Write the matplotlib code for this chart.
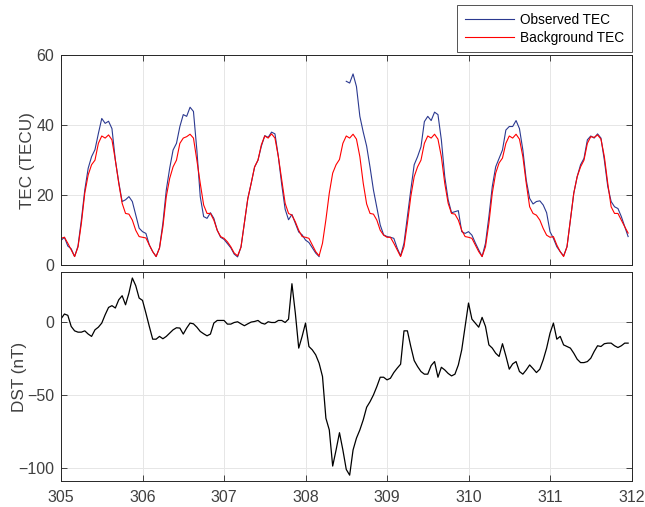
import numpy as np
import matplotlib.pyplot as plt

plt.rcParams['font.family'] = ['Liberation Sans', 'DejaVu Sans']

# hourly samples, day of year 305 - 311
hours = np.arange(168)
doy = 305 + hours / 24.0

tec_background = [
    7.7, 8.0, 6.3, 4.4, 2.5, 5.2, 12.0, 20.6, 25.8, 28.7, 30.0, 34.8, 36.9, 36.3, 37.2, 35.8, 30.0, 23.4, 17.7, 14.8, 14.6, 12.9, 10.0, 8.2,
    8.0, 7.8, 5.8, 3.9, 2.5, 4.9, 11.0, 19.6, 24.8, 28.1, 30.0, 34.8, 36.3, 36.7, 37.4, 36.3, 30.0, 23.4, 17.2, 14.8, 14.8, 12.9, 10.0, 8.2,
    7.7, 6.7, 5.3, 3.5, 2.7, 5.2, 12.0, 19.0, 23.4, 28.1, 30.0, 34.4, 36.9, 36.3, 37.5, 36.3, 31.0, 24.3, 17.7, 14.8, 14.3, 12.4, 10.0, 8.2,
    8.0, 7.7, 5.8, 3.9, 2.7, 6.3, 13.0, 20.6, 26.3, 28.7, 30.2, 34.8, 36.9, 36.3, 37.4, 36.0, 31.0, 23.4, 17.5, 14.8, 14.6, 12.9, 10.0, 8.6,
    8.0, 8.0, 6.3, 4.4, 2.5, 5.3, 12.0, 19.6, 25.3, 28.1, 30.0, 34.8, 36.9, 36.3, 37.4, 36.0, 31.0, 23.4, 17.7, 14.8, 14.6, 12.9, 10.0, 8.2,
    8.0, 7.7, 5.8, 3.9, 2.5, 5.3, 12.0, 20.6, 26.3, 29.2, 30.6, 34.8, 36.9, 36.3, 37.4, 36.0, 31.0, 23.4, 16.7, 14.8, 14.3, 12.9, 10.5, 8.6,
    8.0, 8.2, 5.8, 3.9, 2.5, 5.3, 13.0, 20.6, 25.3, 28.1, 30.0, 34.8, 36.7, 36.5, 37.2, 36.0, 31.0, 23.4, 16.7, 14.8, 14.8, 12.9, 11.0, 9.2,
]

nan = np.nan
tec_observed = [
    7.1, 8.0, 5.5, 4.7, 2.5, 5.5, 13.0, 21.5, 27.7, 31.0, 33.0, 37.6, 41.9, 40.5, 41.1, 39.0, 30.0, 23.7, 18.2, 18.7, 19.6, 18.2, 14.4, 10.6,
    9.6, 9.1, 5.8, 3.9, 2.5, 5.0, 12.0, 21.5, 27.7, 32.9, 34.8, 39.6, 43.0, 42.5, 45.1, 43.9, 32.9, 19.6, 13.9, 13.4, 15.0, 13.4, 10.0, 8.0,
    7.4, 6.2, 5.0, 3.2, 2.4, 5.2, 12.0, 19.0, 23.4, 28.0, 30.0, 34.0, 37.0, 36.5, 38.0, 37.5, 31.0, 23.0, 16.0, 13.0, 14.5, 12.0, 9.5, 8.7,
    7.2, 6.5, 5.0, 3.5, 2.5, nan, nan, nan, nan, nan, nan, nan, 52.5, 52.0, 54.6, 51.0, 42.5, 38.0, 34.0, 28.0, 21.5, 16.5, 11.5, 8.7,
    8.2, 8.0, 7.7, 4.9, 2.7, 6.3, 13.9, 21.5, 28.7, 31.0, 33.8, 41.0, 42.5, 41.3, 43.7, 43.0, 35.8, 25.3, 18.7, 15.0, 15.3, 15.6, 9.6, 9.1,
    9.6, 8.6, 6.4, 4.4, 2.5, 6.3, 13.9, 22.5, 28.1, 30.5, 32.9, 38.6, 39.6, 39.6, 41.3, 39.0, 32.9, 24.3, 19.1, 17.5, 18.2, 18.4, 17.2, 15.0,
    9.6, 7.7, 5.3, 3.9, 2.7, 5.3, 13.0, 20.6, 25.3, 28.7, 30.5, 35.8, 36.9, 36.3, 37.5, 36.3, 30.0, 22.5, 18.2, 16.7, 16.2, 13.9, 11.0, 8.2,
]

dst = [
    2.0, 5.3, 4.4, -3.2, -6.2, -7.1, -7.1, -6.2, -8.4, -10.0, -5.5, -3.7, -0.9, 4.8, 9.8, 11.0, 9.4, 15.0, 17.8, 11.6, 19.6, 29.9, 24.7, 16.2,
    14.6, 5.9, -3.2, -11.9, -11.9, -10.0, -11.6, -10.0, -7.8, -5.5, -4.1, -4.3, -8.4, -4.3, -0.9, -1.4, -3.7, -6.6, -8.2, -9.6, -8.4, -0.9, 0.9, 0.9,
    0.9, -1.6, -1.6, -0.5, 0.0, -1.4, -2.7, -1.4, -0.2, 0.2, 0.9, -0.9, -1.6, 0.0, -0.5, -0.5, 0.9, 0.9, -0.5, 1.8, 26.0, 5.9, -18.0, -10.0,
    -0.9, -16.9, -19.2, -22.6, -28.3, -37.4, -65.9, -73.9, -98.6, -87.6, -75.8, -87.6, -100.9, -104.8, -87.6, -79.5, -73.9, -67.0, -58.4, -54.6, -50.0, -44.3, -37.9, -37.9,
    -39.7, -38.6, -34.7, -31.7, -29.0, -6.2, -6.2, -16.9, -26.5, -30.6, -34.0, -35.8, -35.8, -29.9, -27.2, -37.9, -31.1, -32.9, -35.3, -37.0, -35.8, -29.5, -19.2, -3.2,
    12.8, 1.8, -0.9, -3.7, 3.0, -3.2, -15.8, -18.0, -21.5, -23.7, -15.0, -23.3, -32.4, -28.8, -27.2, -34.0, -35.8, -32.9, -29.5, -32.0, -34.7, -32.4, -26.0, -18.0,
    -7.8, -0.9, -11.9, -10.0, -15.8, -16.9, -18.0, -21.5, -25.6, -27.9, -27.9, -27.2, -24.9, -20.3, -16.4, -16.9, -15.0, -14.6, -14.6, -16.4, -17.6, -16.4, -14.6, -14.6,
]

axis_col = '#262626'
text_col = '#404040'

fig = plt.figure(figsize=(6.45, 5.07), dpi=100)
ax1 = fig.add_axes([0.0946, 0.4767, 0.8845, 0.4148])
ax2 = fig.add_axes([0.0946, 0.0507, 0.8845, 0.4128])

ax1.plot(doy, tec_observed, color='#2b3990', lw=0.8, label='Observed TEC')
ax1.plot(doy, tec_background, color='#ff0000', lw=0.8, label='Background TEC')
ax1.set_ylim(0, 60)
ax1.set_yticks([0, 20, 40, 60])
ax1.set_ylabel('TEC (TECU)', fontsize=12.3, color=text_col)
ax1.tick_params(labelbottom=False)
ax1.yaxis.set_label_coords(-0.045, 0.5)

ax2.plot(doy, dst, color='black', lw=0.9)
ax2.set_ylim(-109, 34)
ax2.set_yticks([-100, -50, 0])
ax2.set_ylabel('DST (nT)', fontsize=12.3, color=text_col)
ax2.yaxis.set_label_coords(-0.059, 0.5)

for ax in (ax1, ax2):
    ax.set_xlim(305, 312)
    ax.set_xticks(np.arange(305, 313))
    ax.grid(True, color='#e6e6e6', lw=0.7)
    ax.set_axisbelow(True)
    ax.tick_params(direction='in', length=4.5, width=0.6, top=True, right=True,
                   color=axis_col, labelcolor=text_col, labelsize=11.5)
    ax.tick_params(axis='x', pad=6)
    ax.tick_params(axis='y', pad=5)
    for s in ax.spines.values():
        s.set_color(axis_col)
        s.set_linewidth(0.7)

leg = fig.legend(loc='upper right', bbox_to_anchor=(0.98, 0.990), fontsize=9.8,
                 frameon=True, fancybox=False, handlelength=3.6, borderpad=0.55,
                 labelspacing=0.32, handletextpad=0.5, borderaxespad=0.0)
leg.get_frame().set_edgecolor(axis_col)
leg.get_frame().set_linewidth(0.7)
for t in leg.get_texts():
    t.set_color('black')

fig.savefig('out.png', dpi=100)
